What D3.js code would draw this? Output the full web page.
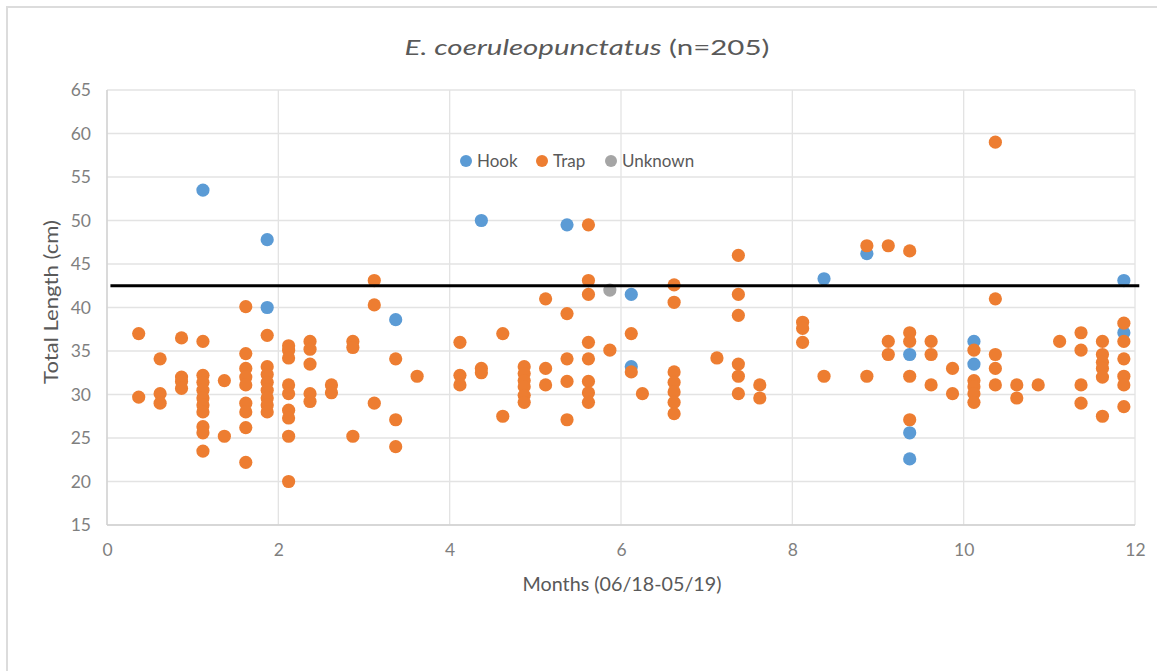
<!DOCTYPE html>
<html><head><meta charset="utf-8">
<script src="https://cdn.jsdelivr.net/npm/d3@7"></script>
<style>
html,body{margin:0;padding:0;background:#fff;}
svg{display:block;font-family:Lato,"Open Sans",sans-serif;}
</style></head>
<body>
<svg id="c" width="1157" height="671"></svg>
<script>
// ---- data (months, total length cm) ----
const hook = [
  [1.12,53.5],[1.87,47.8],[1.87,40.0],[3.37,38.6],[4.37,50.0],[5.37,49.5],
  [6.12,41.5],[6.12,33.2],[8.37,43.3],[8.87,46.2],[9.37,34.6],[9.37,25.6],
  [9.37,22.6],[10.12,36.1],[10.12,33.5],[11.87,43.1],[11.87,37.1]
];
const trap = [
  [0.37,37.0],[0.37,29.7],
  [0.62,34.1],[0.62,30.1],[0.62,29.0],
  [0.87,36.5],[0.87,32.0],[0.87,31.5],[0.87,30.7],
  [1.12,36.1],[1.12,32.2],[1.12,31.4],[1.12,30.5],[1.12,29.6],[1.12,28.8],[1.12,28.0],[1.12,26.3],[1.12,25.6],[1.12,23.5],
  [1.37,31.6],[1.37,25.2],
  [1.62,40.1],[1.62,34.7],[1.62,33.0],[1.62,32.0],[1.62,31.1],[1.62,29.0],[1.62,28.0],[1.62,26.2],[1.62,22.2],
  [1.87,36.8],[1.87,33.2],[1.87,32.3],[1.87,31.4],[1.87,30.5],[1.87,29.6],[1.87,28.8],[1.87,28.0],
  [2.12,35.6],[2.12,35.1],[2.12,34.2],[2.12,31.1],[2.12,30.1],[2.12,28.2],[2.12,27.3],[2.12,25.2],[2.12,20.0],
  [2.37,36.1],[2.37,35.2],[2.37,33.5],[2.37,30.1],[2.37,29.2],
  [2.62,31.1],[2.62,30.2],
  [2.87,36.1],[2.87,35.4],[2.87,25.2],
  [3.12,43.1],[3.12,40.3],[3.12,29.0],
  [3.37,34.1],[3.37,27.1],[3.37,24.0],
  [3.62,32.1],
  [4.12,36.0],[4.12,32.2],[4.12,31.1],
  [4.37,33.0],[4.37,32.5],
  [4.62,37.0],[4.62,27.5],
  [4.87,33.2],[4.87,32.4],[4.87,31.6],[4.87,30.9],[4.87,29.9],[4.87,29.1],
  [5.12,41.0],[5.12,33.0],[5.12,31.1],
  [5.37,39.3],[5.37,34.1],[5.37,31.5],[5.37,27.1],
  [5.62,49.5],[5.62,43.1],[5.62,41.5],[5.62,36.0],[5.62,34.1],[5.62,31.5],[5.62,30.2],[5.62,29.1],
  [5.87,35.1],
  [6.12,37.0],[6.12,32.6],
  [6.25,30.1],
  [6.62,42.6],[6.62,40.6],[6.62,32.6],[6.62,31.4],[6.62,30.3],[6.62,29.1],[6.62,27.8],
  [7.12,34.2],
  [7.37,46.0],[7.37,41.5],[7.37,39.1],[7.37,33.5],[7.37,32.1],[7.37,30.1],
  [7.62,31.1],[7.62,29.6],
  [8.12,38.3],[8.12,37.6],[8.12,36.0],
  [8.37,32.1],
  [8.87,47.1],[8.87,32.1],
  [9.12,47.1],[9.12,36.1],[9.12,34.6],
  [9.37,46.5],[9.37,37.1],[9.37,36.1],[9.37,32.1],[9.37,27.1],
  [9.62,36.1],[9.62,34.6],[9.62,31.1],
  [9.87,33.0],[9.87,30.1],
  [10.12,35.1],[10.12,31.6],[10.12,30.9],[10.12,30.1],[10.12,29.1],
  [10.37,59.0],[10.37,41.0],[10.37,34.6],[10.37,33.0],[10.37,31.1],
  [10.62,31.1],[10.62,29.6],
  [10.87,31.1],
  [11.12,36.1],
  [11.37,37.1],[11.37,35.1],[11.37,31.1],[11.37,29.0],
  [11.62,36.1],[11.62,34.6],[11.62,33.7],[11.62,33.0],[11.62,32.0],[11.62,27.5],
  [11.87,38.2],[11.87,36.1],[11.87,34.1],[11.87,32.1],[11.87,31.1],[11.87,28.6]
];
const unknown = [[5.87,42.0]];
const seriesNames = ["Hook","Trap","Unknown"];
const seriesColors = ["#5B9BD5","#ED7D31","#A5A5A5"];
const xTicks = [0,2,4,6,8,10,12];
const yTicks = [15,20,25,30,35,40,45,50,55,60,65];
const referenceLine = 42.5;
const titleItalic = "E. coeruleopunctatus";
const titleRest = " (n=205)";
const xTitle = "Months (06/18-05/19)";
const yTitle = "Total Length (cm)";

// ---- drawing ----
const svg = d3.select("#c");
const L = 107, R = 1135, T = 90, B = 525;
const x = d3.scaleLinear().domain([0,12]).range([L,R]);
const y = d3.scaleLinear().domain([15,65]).range([B,T]);

// chart border
svg.append("rect").attr("x",7).attr("y",7).attr("width",1170).attr("height",700)
  .attr("fill","none").attr("stroke","#dcdcdc").attr("stroke-width",2);

// gridlines
const grid = svg.append("g");
grid.selectAll("line.h").data(yTicks).join("line")
  .attr("x1",L).attr("x2",R).attr("y1",d=>y(d)).attr("y2",d=>y(d))
  .attr("stroke","#e3e3e3").attr("stroke-width",1.3);
grid.selectAll("line.v").data(xTicks).join("line")
  .attr("y1",T).attr("y2",B).attr("x1",d=>x(d)).attr("x2",d=>x(d))
  .attr("stroke","#e3e3e3").attr("stroke-width",1.3);
svg.append("line").attr("x1",L).attr("x2",L).attr("y1",T).attr("y2",B).attr("stroke","#d0d0d0").attr("stroke-width",1.3);
svg.append("line").attr("x1",L).attr("x2",R).attr("y1",B).attr("y2",B).attr("stroke","#d0d0d0").attr("stroke-width",1.3);

// axes with d3
const yAxis = svg.append("g").attr("transform",`translate(${L},0)`)
  .call(d3.axisLeft(y).tickValues(yTicks).tickSize(0).tickPadding(16));
const xAxis = svg.append("g").attr("transform",`translate(0,${B})`)
  .call(d3.axisBottom(x).tickValues(xTicks).tickSize(0).tickPadding(19));
[yAxis,xAxis].forEach(a=>{
  a.select(".domain").remove();
  a.selectAll("text").attr("fill","#7f7f7f").style("font-size","17.5px").style("font-family","Lato, sans-serif");
});

// helper: stretch text horizontally to a target width (reference text is wide)
function fit(sel, cx, cy, target, rot){
  const w = sel.node().getComputedTextLength();
  const k = target / w;
  sel.attr("x",0).attr("y",0).attr("text-anchor","middle")
    .attr("transform",`translate(${cx},${cy})${rot?` rotate(${rot})`:""} scale(${k},1)`);
}

// titles
const title = svg.append("text").attr("fill","#595959").style("font-size","21.5px");
title.append("tspan").attr("font-style","italic").text(titleItalic);
title.append("tspan").text(titleRest);
fit(title, 587, 54.5, 365);

const xt = svg.append("text").attr("fill","#595959").style("font-size","20px").text(xTitle);
fit(xt, 622, 591, 199);
const yt = svg.append("text").attr("fill","#595959").style("font-size","20px").text(yTitle);
fit(yt, 58, 302, 164, -90);

// points
[hook,trap,unknown].forEach((data,i)=>{
  svg.append("g").selectAll("circle").data(data).join("circle")
    .attr("cx",d=>x(d[0])).attr("cy",d=>y(d[1])).attr("r",6.6)
    .attr("fill",seriesColors[i]);
});

// reference line
svg.append("line").attr("x1",x(0.04)).attr("x2",x(12.05))
  .attr("y1",y(referenceLine)).attr("y2",y(referenceLine))
  .attr("stroke","#000").attr("stroke-width",3);

// legend
const legendX = [466,542,611];
const lg = svg.append("g");
seriesNames.forEach((n,i)=>{
  lg.append("circle").attr("cx",legendX[i]).attr("cy",161).attr("r",6).attr("fill",seriesColors[i]);
  lg.append("text").attr("x",legendX[i]+11).attr("y",167).attr("fill","#595959")
    .style("font-size","17px").text(n);
});
</script>
</body></html>
